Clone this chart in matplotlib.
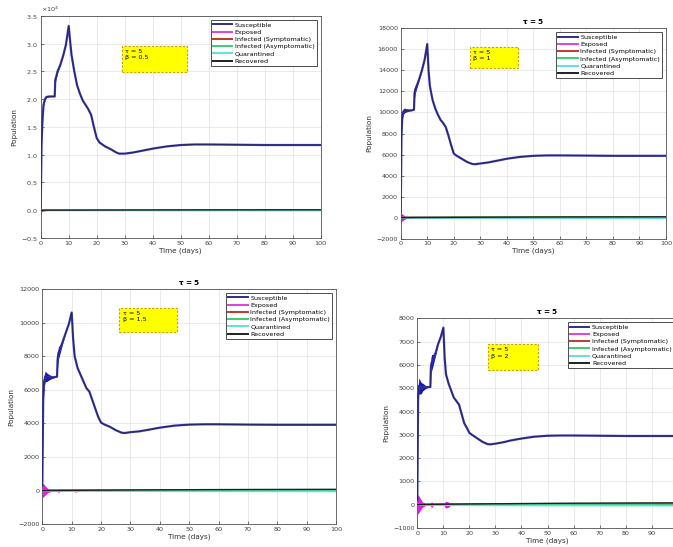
import numpy as np
import matplotlib
matplotlib.use('Agg')
import matplotlib.pyplot as plt
from matplotlib.patches import Rectangle

# time samples (days)
t = [0, 0.3, 0.6, 1, 1.5, 2, 3, 4, 5, 5.2, 5.5, 6, 7, 8, 9, 10, 10.5, 11, 12, 13,
     14, 15, 16, 17, 18, 19, 20, 21, 23, 25, 27, 28, 30, 33, 36, 40, 45, 50, 55,
     60, 70, 80, 90, 100]

# susceptible population for each beta
S_b05 = [500, 12000, 16000, 19000, 20000, 20400, 20500, 20500, 20500, 23500, 24000,
         25000, 26200, 27800, 29800, 33200, 30500, 28000, 25000, 22500, 21000, 19800,
         19000, 18200, 17200, 15000, 13000, 12200, 11500, 11000, 10400, 10200, 10200,
         10400, 10700, 11100, 11500, 11750, 11850, 11850, 11800, 11750, 11750, 11750]
S_b1 = [500, 8000, 9600, 10100, 10200, 10200, 10200, 10200, 10250, 11800, 12200,
        12500, 13200, 14000, 15000, 16500, 14000, 12500, 11200, 10400, 9800, 9300,
        9000, 8600, 7800, 6900, 6100, 5900, 5600, 5300, 5100, 5080, 5150, 5250, 5400,
        5600, 5780, 5880, 5920, 5920, 5900, 5880, 5880, 5880]
S_b15 = [300, 5500, 6500, 6800, 6750, 6750, 6750, 6750, 6780, 7800, 8200, 8400,
         8900, 9400, 9900, 10600, 9000, 8000, 7300, 6900, 6500, 6100, 5900, 5400,
         4900, 4400, 4050, 3950, 3800, 3600, 3450, 3430, 3480, 3530, 3620, 3750,
         3870, 3930, 3950, 3950, 3930, 3920, 3920, 3920]
S_b2 = [200, 4700, 5100, 5050, 5000, 5050, 5050, 5050, 5050, 5900, 6100, 6200,
        6500, 6900, 7200, 7600, 6300, 5600, 5200, 4900, 4600, 4450, 4300, 3900,
        3500, 3300, 3080, 3000, 2850, 2700, 2600, 2590, 2620, 2680, 2760, 2840,
        2920, 2960, 2970, 2970, 2960, 2950, 2950, 2950]

# half width of the oscillating band around S
S_spread_b05 = [0, 400, 350, 300, 200, 120, 60, 0, 0, 500, 400, 250, 100, 0, 0, 0,
                0, 0, 0, 0, 0, 0, 0, 0, 0, 0, 0, 0, 0, 0, 0, 0, 0, 0, 0, 0, 0, 0, 0,
                0, 0, 0, 0, 0]
S_spread_b1 = [0, 350, 320, 280, 220, 160, 80, 20, 0, 450, 380, 250, 100, 0, 0, 0,
               0, 0, 0, 0, 0, 0, 0, 0, 0, 0, 0, 0, 0, 0, 0, 0, 0, 0, 0, 0, 0, 0, 0,
               0, 0, 0, 0, 0]
S_spread_b15 = [0, 380, 350, 320, 260, 190, 100, 30, 0, 450, 380, 250, 100, 0, 0, 0,
                0, 0, 0, 0, 0, 0, 0, 0, 0, 0, 0, 0, 0, 0, 0, 0, 0, 0, 0, 0, 0, 0, 0,
                0, 0, 0, 0, 0]
S_spread_b2 = [0, 380, 340, 300, 240, 170, 80, 20, 0, 400, 350, 250, 100, 0, 0, 0,
               0, 0, 0, 0, 0, 0, 0, 0, 0, 0, 0, 0, 0, 0, 0, 0, 0, 0, 0, 0, 0, 0, 0,
               0, 0, 0, 0, 0]

# exposed oscillation amplitude near zero
E_spread_b05 = [300, 280, 240, 180, 120, 70, 30, 0, 0, 0, 0, 0, 0, 0, 0, 0, 0, 0,
                0, 0, 0, 0, 0, 0, 0, 0, 0, 0, 0, 0, 0, 0, 0, 0, 0, 0, 0, 0, 0, 0, 0,
                0, 0, 0]
E_spread_b1 = [400, 380, 330, 260, 170, 100, 40, 0, 0, 0, 0, 0, 0, 0, 0, 0, 0, 0,
               0, 0, 0, 0, 0, 0, 0, 0, 0, 0, 0, 0, 0, 0, 0, 0, 0, 0, 0, 0, 0, 0, 0,
               0, 0, 0]
E_spread_b15 = [420, 400, 350, 270, 180, 110, 50, 0, 0, 80, 100, 40, 0, 0, 0, 0, 0,
                80, 60, 0, 0, 0, 0, 0, 0, 0, 0, 0, 0, 0, 0, 0, 0, 0, 0, 0, 0, 0, 0,
                0, 0, 0, 0, 0]
E_spread_b2 = [420, 400, 360, 280, 190, 110, 50, 0, 0, 100, 130, 50, 0, 0, 0, 0, 100,
               150, 110, 0, 0, 0, 0, 0, 0, 0, 0, 0, 0, 0, 0, 0, 0, 0, 0, 0, 0, 0, 0,
               0, 0, 0, 0, 0]

# remaining compartments stay close to zero
E = [0, 20, 20, 15, 10, 5, 3, 2, 2, 4, 5, 4, 3, 2, 2, 2, 3, 3, 3, 2, 2, 2, 2, 2, 2,
     2, 2, 2, 2, 2, 2, 2, 2, 2, 2, 2, 2, 2, 2, 2, 2, 2, 2, 2]
I_sym = [0, 5, 8, 10, 12, 13, 14, 15, 15, 16, 16, 17, 18, 18, 19, 20, 20, 20, 21,
         21, 22, 22, 22, 23, 23, 24, 24, 25, 26, 27, 28, 28, 29, 30, 31, 32, 34, 35,
         36, 37, 38, 39, 40, 40]
I_asym = [0, 3, 5, 6, 7, 8, 9, 10, 10, 10, 11, 11, 12, 12, 13, 13, 13, 14, 14, 14,
          15, 15, 15, 16, 16, 16, 17, 17, 18, 18, 19, 19, 20, 20, 21, 22, 23, 24,
          25, 25, 26, 27, 27, 28]
Q = [0, -5, -8, -10, -12, -13, -14, -15, -15, -16, -16, -17, -18, -18, -19, -20,
     -20, -20, -21, -21, -22, -22, -22, -23, -23, -24, -24, -25, -26, -27, -28, -28,
     -29, -30, -31, -32, -34, -35, -36, -37, -38, -39, -40, -40]
R = [0, 2, 4, 6, 8, 10, 12, 14, 15, 16, 16, 17, 18, 19, 20, 21, 21, 22, 23, 24, 25,
     26, 27, 28, 29, 30, 31, 32, 34, 36, 38, 39, 41, 43, 46, 50, 54, 58, 62, 65,
     70, 74, 77, 80]

betas = ['0.5', '1', '1.5', '2']
S_all = [S_b05, S_b1, S_b15, S_b2]
S_spreads = [S_spread_b05, S_spread_b1, S_spread_b15, S_spread_b2]
E_spreads = [E_spread_b05, E_spread_b1, E_spread_b15, E_spread_b2]
y_lims = [(-5000, 35000), (-2000, 18000), (-2000, 12000), (-1000, 8000)]
y_steps = [5000, 2000, 2000, 1000]

labels = ['Susceptible', 'Exposed', 'Infected (Symptomatic)',
          'Infected (Asymptomatic)', 'Quarantined', 'Recovered']
colors = ['#2a2f8f', '#e040e0', '#c0392b', '#3ccf6e', '#5ce0e0', '#202020']

# axes rectangles in figure fraction
positions = [[0.0605, 0.5649, 0.4160, 0.4059],
             [0.5954, 0.5636, 0.3942, 0.3846],
             [0.0629, 0.0415, 0.4364, 0.4302],
             [0.6201, 0.0347, 0.3869, 0.3834]]
# yellow note boxes: x, y_bottom, width, height (axes fraction)
boxes = [[0.289, 0.746, 0.232, 0.120],
         [0.261, 0.810, 0.182, 0.1025],
         [0.262, 0.816, 0.197, 0.1045],
         [0.270, 0.753, 0.192, 0.123]]

fig = plt.figure(figsize=(6.73, 5.47), dpi=100)
fs = 4.6

for k in range(4):
    ax = fig.add_axes(positions[k])
    S = np.array(S_all[k], dtype=float)
    ss = np.array(S_spreads[k], dtype=float)
    es = np.array(E_spreads[k], dtype=float)
    Ev = np.array(E, dtype=float)

    # oscillation bands
    ax.fill_between(t, S - ss, S + ss, color='#1515c8', lw=0, zorder=2)
    ax.fill_between(t, Ev - es, Ev + es, color='#e020e0', lw=0, zorder=2)

    ax.plot(t, S, color='#3a3aa8', lw=1.6, zorder=3)
    ax.plot(t, S, color='#202050', lw=0.5, zorder=3)
    ax.plot(t, Ev, color=colors[1], lw=1.2, zorder=3)
    ax.plot(t, I_sym, color=colors[2], lw=1.2, zorder=3)
    ax.plot(t, I_asym, color=colors[3], lw=1.2, zorder=3)
    ax.plot(t, Q, color=colors[4], lw=1.2, zorder=3)
    ax.plot(t, R, color=colors[5], lw=1.0, zorder=4)

    # legend handles
    hs = [ax.plot([], [], color=c, lw=1.4)[0] for c in colors]
    leg = ax.legend(hs, labels, loc='upper right', fontsize=fs,
                    handlelength=3.0, handletextpad=0.4, labelspacing=0.28,
                    borderpad=0.35, borderaxespad=0.6, fancybox=False,
                    framealpha=1, edgecolor='#303030')
    leg.get_frame().set_linewidth(0.6)

    ax.set_xlim(0, 100)
    ax.set_ylim(*y_lims[k])
    ax.set_xticks(np.arange(0, 101, 10))
    if k == 3:
        # last label falls past the figure edge
        ax.set_xticklabels([str(v) for v in range(0, 91, 10)] + [''])
    ax.set_yticks(np.arange(y_lims[k][0], y_lims[k][1] + 1, y_steps[k]))
    if k == 0:
        ax.ticklabel_format(axis='y', style='sci', scilimits=(0, 0), useMathText=True)
        ax.yaxis.get_offset_text().set_fontsize(fs)
    ax.tick_params(direction='in', length=2, width=0.5, labelsize=fs,
                   colors='#404040', pad=2)
    ax.grid(True, color='#e2e2e2', lw=0.5)
    ax.set_axisbelow(True)
    for sp in ax.spines.values():
        sp.set_color('#505050')
        sp.set_linewidth(0.6)
    ax.set_xlabel('Time (days)', fontsize=5.2, color='#303030', labelpad=1)
    ax.set_ylabel('Population', fontsize=5.2, color='#303030', labelpad=3)
    if k > 0:
        ax.set_title(r'$\mathbf{\tau}$ = 5', fontsize=5.2, fontweight='bold', pad=3)

    # parameter note box
    bx, by, bw, bh = boxes[k]
    ax.add_patch(Rectangle((bx, by), bw, bh, transform=ax.transAxes,
                           facecolor='#ffff00', edgecolor='#c8a000', lw=0.8,
                           linestyle=(0, (2, 1.5)), zorder=5))
    ax.text(bx + 0.012, by + bh - 0.015, '\u03c4 = 5\n\u03b2 = ' + betas[k],
            transform=ax.transAxes, fontsize=fs, va='top', ha='left',
            linespacing=1.3, zorder=6)

fig.savefig('out.png', dpi=100)
